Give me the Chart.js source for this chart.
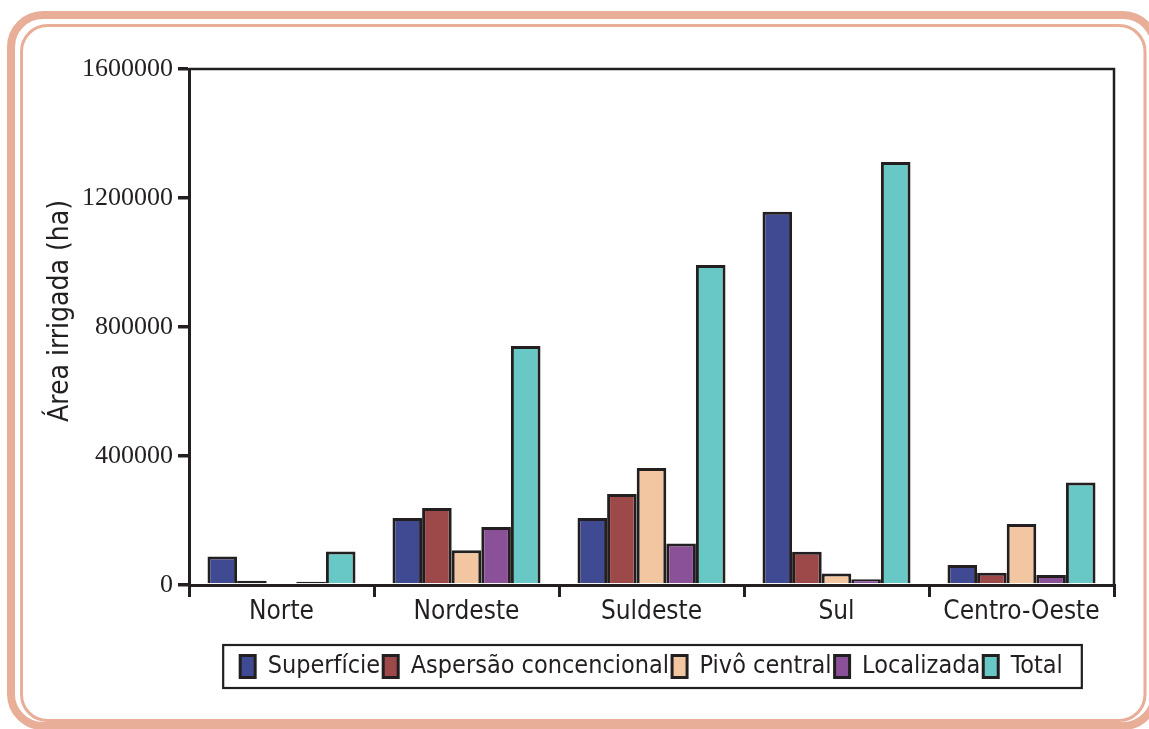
<!DOCTYPE html>
<html>
<head>
<meta charset="utf-8">
<script src="https://cdn.jsdelivr.net/npm/chart.js@4/dist/chart.umd.min.js"></script>
<style>
  html, body { margin: 0; padding: 0; background: #ffffff; }
  #wrap { width: 1149px; height: 729px; }
</style>
</head>
<body>
<div id="wrap"><canvas id="c" width="1149" height="729"></canvas></div>
<script>
// Irrigated area by region and irrigation method (ha)
const regions = ['Norte', 'Nordeste', 'Suldeste', 'Sul', 'Centro-Oeste'];
const superficie = [88000, 208000, 208000, 1157000, 62000];
const aspersao = [13000, 239000, 282000, 103000, 38000];
const pivo = [0, 108000, 363000, 36000, 189000];
const localizada = [10000, 180000, 129000, 18000, 31000];
const total = [104000, 741000, 992000, 1312000, 318000];
const seriesNames = ['Superfície', 'Aspersão concencional', 'Pivô central', 'Localizada', 'Total'];
const yTicks = [0, 400000, 800000, 1200000, 1600000];

const INK = '#231f20';
const colors = ['#404a92', '#9d4849', '#f1c6a0', '#8a5199', '#68c8c6'];
const seriesValues = [superficie, aspersao, pivo, localizada, total];

const COND = "'DejaVu Sans Condensed', 'Liberation Sans', sans-serif";

// Rounded double frame around the figure
const framePlugin = {
  id: 'frame',
  beforeDraw(chart) {
    const ctx = chart.ctx;
    ctx.save();
    ctx.fillStyle = '#ffffff';
    ctx.fillRect(0, 0, chart.width, chart.height);
    ctx.strokeStyle = '#e8ae98';
    ctx.lineWidth = 8;
    ctx.beginPath();
    ctx.roundRect(11, 15, 1144, 711, 32);
    ctx.stroke();
    ctx.lineWidth = 3;
    ctx.beginPath();
    ctx.roundRect(21.5, 25.5, 1123.5, 695, 26);
    ctx.stroke();
    ctx.restore();
  },
  afterDraw(chart) {
    const ctx = chart.ctx;
    const a = chart.chartArea;
    ctx.save();
    ctx.strokeStyle = INK;
    ctx.lineWidth = 2.5;
    // top and right sides of the plot box
    ctx.beginPath();
    ctx.moveTo(a.left, a.top);
    ctx.lineTo(a.right, a.top);
    ctx.lineTo(a.right, a.bottom);
    ctx.stroke();
    // border around the legend
    const boxes = chart.legend && chart.legend.legendHitBoxes;
    if (boxes && boxes.length) {
      let x0 = Infinity, x1 = -Infinity, y0 = Infinity, y1 = -Infinity;
      boxes.forEach(b => {
        x0 = Math.min(x0, b.left); x1 = Math.max(x1, b.left + b.width);
        y0 = Math.min(y0, b.top); y1 = Math.max(y1, b.top + b.height);
      });
      const cy = (y0 + y1) / 2;
      ctx.lineWidth = 2.2;
      ctx.strokeRect(x0 - 17, cy - 21.5, (x1 - x0) + 36, 43);
    }
    ctx.restore();
  }
};

new Chart(document.getElementById('c'), {
  type: 'bar',
  data: {
    labels: regions,
    datasets: seriesNames.map((name, i) => ({
      label: name,
      data: seriesValues[i],
      backgroundColor: colors[i],
      borderColor: INK,
      borderWidth: 3,
      // very short bars are drawn solid in the outline colour
      borderSkipped: c => (c.raw < 15000 ? false : 'start'),
      categoryPercentage: 0.8,
      barPercentage: 1.0
    }))
  },
  options: {
    responsive: false,
    animation: false,
    layout: { padding: { top: 69, right: 35, left: 40, bottom: 40 } },
    plugins: {
      tooltip: { enabled: false },
      legend: {
        position: 'bottom',
        fullSize: false,
        labels: {
          color: INK,
          font: { family: COND, size: 25 },
          boxWidth: 15,
          boxHeight: 22,
          padding: 3,
          useBorderRadius: false
        }
      }
    },
    scales: {
      x: {
        afterFit(scale) {
          scale.height = 66;
        },
        grid: {
          display: true,
          drawOnChartArea: false,
          offset: true,
          tickLength: 12,
          lineWidth: 3,
          color: INK
        },
        border: { display: true, color: INK, width: 3 },
        ticks: {
          color: INK,
          padding: 0,
          font: { family: COND, size: 26 }
        }
      },
      y: {
        min: 0,
        max: 1600000,
        afterBuildTicks(scale) {
          scale.ticks = yTicks.map(v => ({ value: v }));
        },
        afterFit(scale) {
          scale.width = 149;
        },
        grid: {
          display: true,
          drawOnChartArea: false,
          tickLength: 11,
          lineWidth: 3.5,
          color: INK
        },
        border: { display: true, color: INK, width: 3 },
        ticks: {
          color: INK,
          padding: 5,
          font: { family: "'Liberation Serif', serif", size: 26 },
          callback: v => String(v)
        },
        title: {
          display: true,
          text: '    Área irrigada (ha)',
          color: INK,
          padding: { top: 4, bottom: 0 },
          font: { family: COND, size: 28 }
        }
      }
    }
  },
  plugins: [framePlugin]
});
</script>
</body>
</html>
